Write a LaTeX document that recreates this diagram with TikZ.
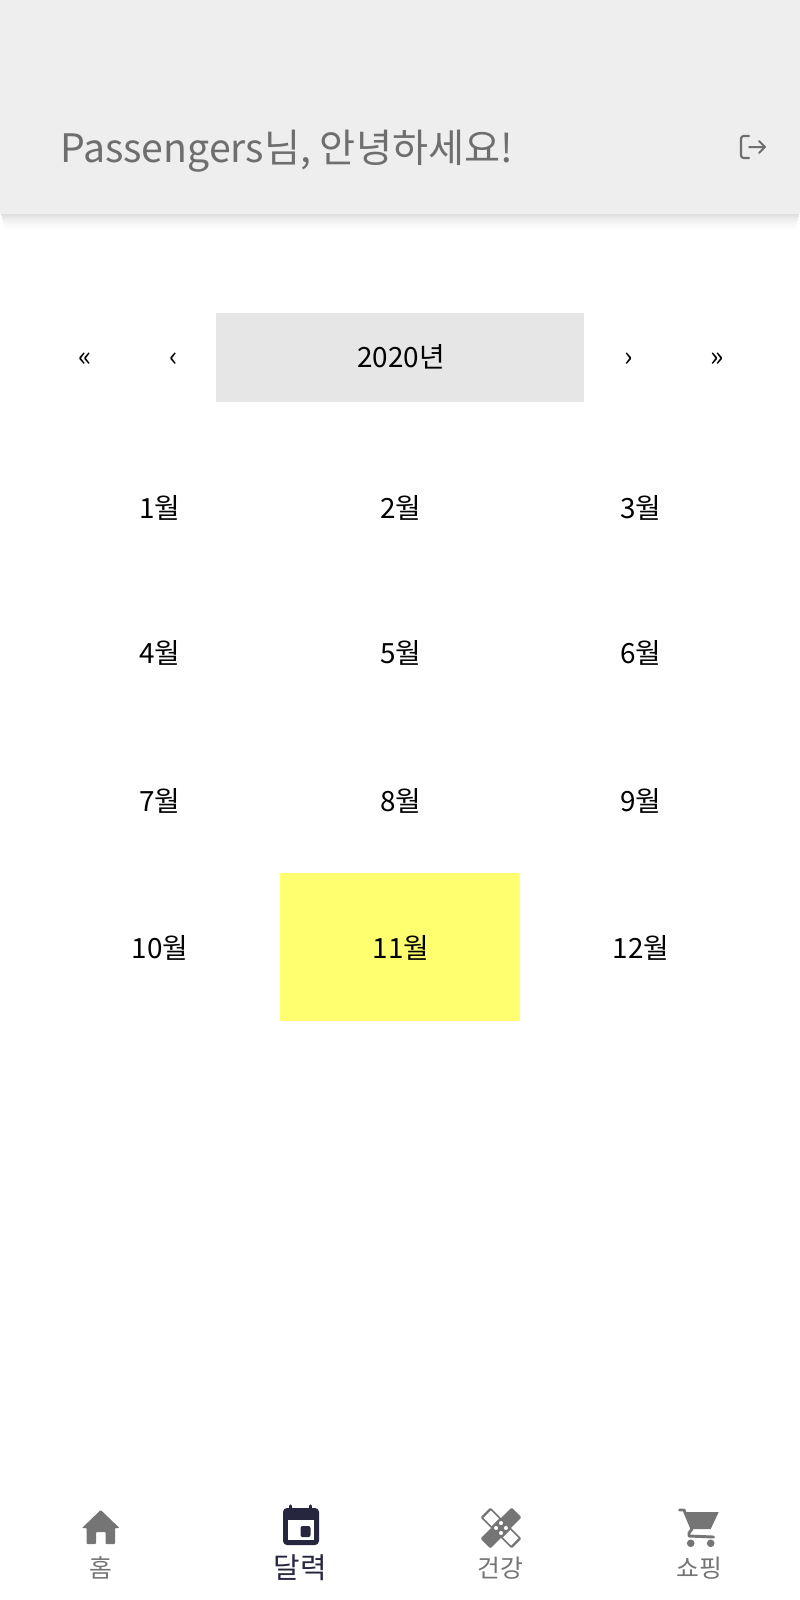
\documentclass[tikz,border=0pt]{standalone}
\usepackage{fontspec}
\setmainfont{Noto Sans CJK KR}
\definecolor{headbg}{HTML}{EEEEEE}
\definecolor{headtxt}{HTML}{6E6E6E}
\definecolor{yearbg}{HTML}{E6E6E6}
\definecolor{nowbg}{HTML}{FFFF70}
\definecolor{navgrey}{HTML}{757575}
\definecolor{navdark}{HTML}{26263E}
\tikzset{
  cell/.style={anchor=base,inner sep=0pt,text=black,font=\fontsize{20.9}{24}\selectfont},
  navtxt/.style={anchor=base,inner sep=0pt,text=navgrey,font=\fontsize{18.6}{22}\selectfont},
}
\begin{document}
\begin{tikzpicture}[x=0.75pt,y=-0.75pt,line join=round,line cap=round]
    \useasboundingbox (0,0) rectangle (800,1600);
    \fill[white] (0,0) rectangle (800,1600);
    % shadow under the header
    \foreach \i in {0,...,17}
        \fill[black,opacity={0.13*(1-\i/18)*(1-\i/18)}] (1+\i/4,214+\i) rectangle (799-\i/4,215+\i);
    \fill[headbg] (0,0) rectangle (800,214);
    \node[anchor=base west,inner sep=0pt,text=headtxt,font=\fontsize{29.4}{35}\selectfont] (greet) at (60,162) {Passengers님, 안녕하세요!};
    % logout
    \draw[headtxt,line width=1.6pt,rounded corners=2pt] (749,136) -- (741,136) -- (741,158) -- (749,158);
    \draw[headtxt,line width=1.5pt] (749,147) -- (765,147) (759,141) -- (765,147) -- (759,153);
    % year row
    \fill[yearbg] (216,313) rectangle (584,402);
    \node[cell] (year) at (401,367) {2020년};
    \node[cell] (first) at (85,366) {«};
    \node[cell] (prev) at (174,366) {‹};
    \node[cell] (next) at (629,366) {›};
    \node[cell] (last) at (717,366) {»};
    % months
    \fill[nowbg] (280,873) rectangle (520,1021);
    \foreach \m/\x/\y in {1/160/518,2/401/518,3/641/518,4/160/663,5/401/663,6/641/663,7/160/811,8/401/811,9/641/811,10/160/958,11/401/958,12/641/958}
        \node[cell] (month\m) at (\x,\y) {\m{}월};
    % home
    \fill[navgrey,rounded corners=0.6pt] (100.7,1510) -- (119.5,1528) -- (115,1528) -- (115,1544) -- (105.7,1544) -- (105.7,1532) -- (96,1532) -- (96,1544) -- (86.7,1544) -- (86.7,1528) -- (82,1528) -- cycle;
    \node[navtxt] (home) at (100.7,1577) {홈};
    % calendar
    \fill[navdark,rounded corners=3pt] (283,1508) rectangle (319,1545);
    \fill[white] (288,1520) rectangle (314,1540);
    \fill[navdark,rounded corners=1.5pt] (300.5,1526) rectangle (310.5,1537);
    \draw[navdark,line width=2.6pt] (290.7,1506) -- (290.7,1510) (310.7,1506) -- (310.7,1510);
    \node[anchor=base,inner sep=0pt,text=navdark,font=\fontsize{21.6}{26}\selectfont] (cal) at (300,1578) {달력};
    % bandage
    \begin{scope}[shift={(501,1528)},rotate=45]
        \fill[navgrey,rounded corners=1pt] (-22,-7) rectangle (22,7);
        \fill[navgrey,rounded corners=1pt] (-7,-22) rectangle (7,22);
        \fill[white] (-5.2,-19.5) rectangle (5.2,-8) (-5.2,8) rectangle (5.2,19.5);
        \foreach \dx/\dy in {-3.5/-3.5,3.5/-3.5,-3.5/3.5,3.5/3.5}
            \fill[white] (\dx,\dy) circle (2);
    \end{scope}
    \node[navtxt] (health) at (500.5,1577) {건강};
    % cart
    \fill[navgrey] (686,1512) -- (718.7,1512) -- (710.7,1529) -- (692,1529) -- cycle;
    \draw[navgrey,line width=2.2pt] (679.5,1510) -- (684,1510) -- (692,1529) -- (689,1533) -- (689,1536) -- (713.5,1537);
    \fill[navgrey] (690.7,1543.3) circle (3.8) (710.7,1543.3) circle (3.8);
    \node[navtxt] (shop) at (699.5,1577) {쇼핑};
\end{tikzpicture}
\end{document}
